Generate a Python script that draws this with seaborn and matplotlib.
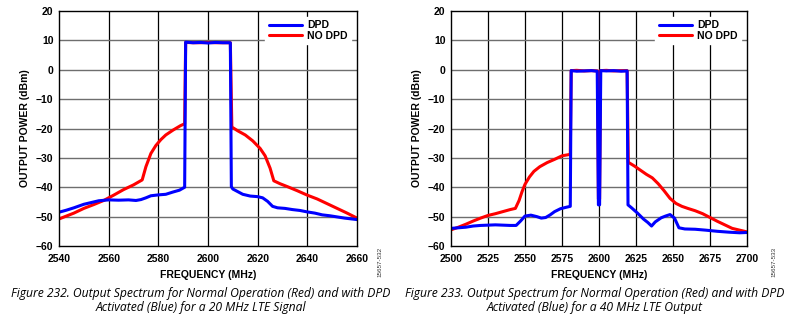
import matplotlib
matplotlib.use("Agg")
import matplotlib.pyplot as plt
import seaborn as sns
import pandas as pd
from matplotlib.lines import Line2D

# ---------------- Data: Figure 232 (20 MHz LTE) ----------------
f20_dpd = [2540, 2543, 2546, 2550, 2553, 2556, 2560, 2564, 2568, 2571, 2573, 2575, 2577, 2580,
           2583, 2586, 2588.5, 2590.6, 2591.0, 2594, 2597, 2600, 2603, 2606, 2609.0, 2609.4,
           2610, 2612, 2614, 2617, 2620, 2622, 2624, 2626, 2628, 2631, 2634, 2637, 2640, 2643,
           2646, 2649, 2652, 2655, 2658, 2660]
p20_dpd = [-48.5, -47.8, -47.0, -45.8, -45.2, -44.6, -44.3, -44.4, -44.3, -44.5, -44.2, -43.6, -42.9, -42.6,
           -42.4, -41.6, -41.0, -40.0, 9.4, 9.2, 9.3, 9.1, 9.3, 9.2, 9.2, -39.8,
           -40.6, -41.5, -42.4, -43.0, -43.2, -43.6, -44.8, -46.5, -47.0, -47.2, -47.6, -47.9, -48.4, -48.8,
           -49.4, -49.7, -50.1, -50.5, -50.8, -51.0]

f20_nodpd = [2540, 2543, 2546, 2550, 2554, 2558, 2562, 2566, 2570, 2573.5, 2575, 2577, 2579, 2581,
             2583, 2586, 2589, 2590.6, 2591.0, 2594, 2597, 2600, 2603, 2606, 2609.0, 2609.6,
             2612, 2615, 2618, 2621, 2623, 2625, 2626.5, 2629, 2632, 2636, 2640, 2644, 2648,
             2652, 2656, 2660]
p20_nodpd = [-50.8, -49.8, -48.8, -47.2, -45.9, -44.5, -42.7, -40.8, -39.2, -37.5, -33.0, -28.5, -25.8, -23.8,
             -22.2, -20.5, -19.0, -18.4, 9.3, 9.2, 9.2, 9.3, 9.2, 9.2, 9.2, -19.5,
             -20.8, -22.2, -24.2, -26.8, -29.3, -33.5, -37.8, -38.8, -39.8, -41.2, -42.7, -44.0, -45.6,
             -47.2, -48.8, -50.5]

# ---------------- Data: Figure 233 (40 MHz LTE) ----------------
f40_dpd = [2500, 2505, 2510, 2515, 2520, 2525, 2530, 2535, 2540, 2544, 2547, 2550, 2554, 2558, 2561,
           2564, 2567, 2570, 2574, 2578, 2580.6, 2581.2, 2585, 2590, 2595, 2598.8, 2599.6, 2600.4,
           2601.2, 2605, 2610, 2615, 2619.0, 2619.6, 2622, 2626, 2630, 2633, 2635.5, 2638, 2642,
           2645, 2648, 2651, 2654, 2658, 2665, 2672, 2680, 2688, 2695, 2700]
p40_dpd = [-54.0, -53.8, -53.6, -53.2, -53.0, -52.9, -52.8, -52.9, -53.0, -53.0, -51.5, -49.8, -49.5, -50.0, -50.5,
           -50.3, -49.4, -48.3, -47.3, -46.8, -46.5, -0.3, -0.5, -0.4, -0.3, -0.5, -46.0, -46.0,
           -0.3, -0.4, -0.3, -0.5, -0.4, -46.0, -47.0, -48.8, -50.8, -52.0, -53.2, -51.8, -50.4,
           -49.8, -49.3, -50.5, -53.8, -54.2, -54.3, -54.6, -55.0, -55.3, -55.5, -55.4]

f40_nodpd = [2500, 2505, 2510, 2515, 2520, 2525, 2530, 2535, 2540, 2543.5, 2546, 2548, 2550, 2553,
             2556, 2560, 2565, 2570, 2575, 2580.6, 2581.2, 2585, 2590, 2595, 2599.0, 2599.6, 2600.4,
             2601.0, 2605, 2610, 2615, 2619.0, 2619.8, 2624, 2628, 2632, 2636, 2640, 2644, 2648,
             2652, 2656, 2660, 2665, 2670, 2675, 2680, 2685, 2690, 2695, 2700]
p40_nodpd = [-54.5, -53.6, -52.6, -51.5, -50.5, -49.6, -49.0, -48.3, -47.6, -47.2, -44.5, -41.5, -39.0, -36.5,
             -34.6, -33.0, -31.6, -30.5, -29.3, -28.8, -0.3, -0.2, -0.4, -0.3, -0.4, -44.0, -44.0,
             -0.3, -0.2, -0.4, -0.3, -0.3, -31.5, -32.8, -34.2, -35.6, -36.8, -38.8, -41.2, -43.8,
             -45.5, -46.5, -47.2, -48.0, -49.0, -50.3, -51.6, -52.8, -54.0, -54.6, -55.2]

series_names = ["DPD", "NO DPD"]
yticks = [-60, -50, -40, -30, -20, -10, 0, 10, 20]
xticks_20 = [2540, 2560, 2580, 2600, 2620, 2640, 2660]
xticks_40 = [2500, 2525, 2550, 2575, 2600, 2625, 2650, 2675, 2700]
captions = ["Figure 232. Output Spectrum for Normal Operation (Red) and with DPD\nActivated (Blue) for a 20 MHz LTE Signal",
            "Figure 233. Output Spectrum for Normal Operation (Red) and with DPD\nActivated (Blue) for a 40 MHz LTE Output"]
codes = ["15657-532", "15657-533"]

sns.set_theme(style="white")
plt.rcParams["font.family"] = ["Liberation Sans", "DejaVu Sans"]
plt.rcParams["text.color"] = "black"
plt.rcParams["axes.labelcolor"] = "black"
plt.rcParams["xtick.color"] = "black"
plt.rcParams["ytick.color"] = "black"

fig = plt.figure(figsize=(7.88, 3.27), dpi=100)
W, H = 788, 327
axes_px = [(59, 11, 357, 246), (451, 11, 747, 246)]
palette = {"DPD": "#0000ff", "NO DPD": "#ff0000"}

panels = [
    (f20_dpd, p20_dpd, f20_nodpd, p20_nodpd, xticks_20),
    (f40_dpd, p40_dpd, f40_nodpd, p40_nodpd, xticks_40),
]

for i, (fd, pd_, fn, pn, xt) in enumerate(panels):
    l, t, r, b = axes_px[i]
    ax = fig.add_axes([l / W, 1 - b / H, (r - l) / W, (b - t) / H])
    df = pd.concat([
        pd.DataFrame({"f": fn, "p": pn, "s": "NO DPD"}),
        pd.DataFrame({"f": fd, "p": pd_, "s": "DPD"}),
    ], ignore_index=True)
    sns.lineplot(data=df, x="f", y="p", hue="s", hue_order=["NO DPD", "DPD"], palette=palette,
                 estimator=None, sort=False, linewidth=2.2, ax=ax, legend=False)
    ax.set_xlim(xt[0], xt[-1])
    ax.set_ylim(-60, 20)
    ax.set_xticks(xt)
    ax.set_yticks(yticks)
    ax.set_xticklabels([str(v) for v in xt], fontsize=7.5, fontweight="bold", color="black")
    ax.set_yticklabels([str(v).replace("-", "\u2212") for v in yticks], fontsize=7.5,
                       fontweight="bold", color="black")
    ax.tick_params(axis="x", length=0, pad=6)
    ax.tick_params(axis="y", length=0, pad=4)
    for v in xt[1:-1]:
        ax.axvline(v, color="black", lw=0.9, zorder=0)
    for v in yticks[1:-1]:
        ax.axhline(v, color="#6e6e6e", lw=1.0, zorder=0)
    for s in ax.spines.values():
        s.set_color("black")
        s.set_linewidth(1.0)
    ax.set_xlabel("FREQUENCY (MHz)", fontsize=7.5, fontweight="bold", labelpad=4, color="black")
    ax.set_ylabel("OUTPUT POWER (dBm)", fontsize=7.5, fontweight="bold", labelpad=4, color="black")
    handles = [Line2D([], [], color=palette[n], lw=2.2) for n in series_names]
    leg = ax.legend(handles, series_names, loc="upper right", frameon=True, fancybox=False,
                    edgecolor="white", framealpha=1.0, prop={"weight": "bold", "size": 7.5},
                    handlelength=3.2, handletextpad=0.5, labelspacing=0.05,
                    borderpad=0.3, borderaxespad=0.6)
    for txt in leg.get_texts():
        txt.set_color("black")
    cx = (394 * i + (13 + 388) / 2) / W
    fig.text(cx, 1 - 300 / H, captions[i], ha="center", va="center", fontsize=8.7,
             style="italic", family=["Open Sans", "DejaVu Sans"], linespacing=1.1, color="black")
    fig.text((380 if i == 0 else 774) / W, 1 - 262 / H, codes[i], rotation=90, ha="center",
             va="center", fontsize=4.5, color="#333333")

fig.savefig("out.png", dpi=100)
